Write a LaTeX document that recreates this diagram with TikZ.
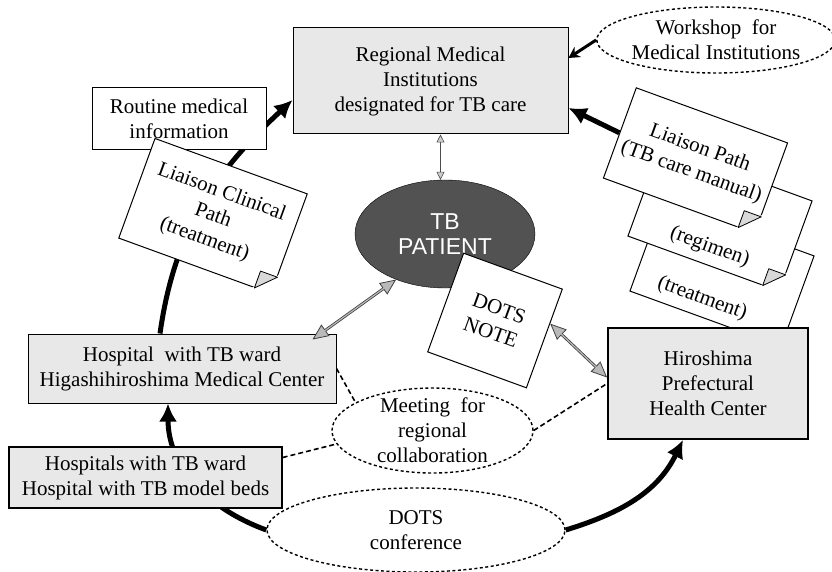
\documentclass[tikz,border=0pt]{standalone}
\usepackage{fontspec}
\setmainfont{Liberation Serif}
\newfontfamily\patfont{Liberation Sans}
\usetikzlibrary{shapes,arrows.meta,calc,backgrounds}
\tikzset{
    semithick,
    font=\fontsize{21}{25}\selectfont,
    box/.style = {rectangle, draw, line width=1pt, fill=gray!18, align=center, inner sep=2pt},
    bubble/.style = {ellipse, draw, line width=1.4pt, dash pattern=on 3pt off 2.5pt, align=center, inner sep=0pt},
    page/.style = {rectangle, draw, line width=1pt, fill=white, rotate=-20, align=center,
                   minimum width=161, minimum height=96, inner sep=2pt},
    fold/.style = {fill=gray!30, draw, line width=0.8pt, line join=round},
    patient/.style = {ellipse, draw, fill=black!68, text=white, align=center,
                      font=\patfont\fontsize{23}{25}\selectfont},
    flow/.style = {line width=5pt, -{Latex[length=18pt, width=18pt]}},
    grayhead/.tip = {Triangle[length=16pt, width=14pt, fill=gray!55, line width=0.8pt]},
    smallhead/.tip = {Triangle[length=8pt, width=8pt, fill=gray!40, line width=0.6pt]},
    swap/.style = {draw=black!75, line width=2.8pt, grayhead-grayhead,
                   postaction={draw=gray!55, line width=1.2pt, -, shorten <=14pt, shorten >=14pt}},
    contact/.style = {draw=black!70, line width=1.2pt, smallhead-smallhead},
    meetline/.style = {line width=1.6pt, dash pattern=on 5pt off 3pt}
}

\begin{document}
\begin{tikzpicture}[x=1pt, y=1pt]

    \useasboundingbox (0,0) rectangle (832,571);

    % Institutions at the top
    \node[box, minimum width=275, minimum height=106] (reg) at (430.5,490) {Regional Medical\\Institutions\\designated for TB care};
    \node[box, fill=white, minimum width=174, minimum height=62] (routine) at (179,452) {Routine medical\\information};
    \node[bubble, minimum width=234, minimum height=66] (shop) at (716,531) {Workshop\ \ for\\Medical Institutions};

    % Liaison paths (papers)
    \node[page, minimum width=162, minimum height=106] (lcp) at (213,355) {Liaison Clinical\\Path\\(treatment)};
    \node[page, text height=75pt] (treat) at (722,297.5) {(treatment)\hspace*{20pt}};
    \node[page, text height=75pt] (regi) at (720,352.5) {(regimen)};
    \node[page] (lpath) at (695.5,410.5) {Liaison Path\\(TB care manual)};

    \node[box, line width=1.8pt, minimum width=200, minimum height=111] (hpc) at (708,187.5) {Hiroshima\\Prefectural\\Health Center};

    % Patient and DOTS note
    \node[patient, minimum width=180, minimum height=108] (pat) at (445,337) {TB\\PATIENT};
    \node[page, minimum width=105, minimum height=105] (note) at (495,250.5) {DOTS\\NOTE};

    % Hospitals and meetings
    \node[box, minimum width=308, minimum height=69] (htb) at (182,202.5) {Hospital\ \ with TB ward\\Higashihiroshima Medical Center};
    \node[box, line width=1.4pt, minimum width=273, minimum height=61] (hosps) at (145.5,93.5) {Hospitals with TB ward\\Hospital with TB model beds};
    \node[bubble, inner ysep=-7pt, minimum width=201, minimum height=85] (meet) at (432.5,140.5) {Meeting\ \ for\\regional\\collaboration};
    \node[bubble, minimum width=298, minimum height=84] (conf) at (416,41) {DOTS\\conference};

    % Folded corners
    \foreach \d in {lcp,regi,lpath} {
        \coordinate (a) at ($(\d.south east)!18pt!(\d.north east)$);
        \coordinate (b) at ($(\d.south east)!18pt!(\d.south west)$);
        \filldraw[white, line width=2.5pt] (a) -- (\d.south east) -- (b) -- cycle;
        \filldraw[fold] (a) -- ($(a)+(b)-(\d.south east)$) -- (b) -- cycle;
    }

    % Main flow
    \begin{pgfonlayer}{background}
        \draw[flow] (conf.west) to[out=160, in=-90] ([xshift=-14pt]htb.south);
        \draw[flow] ([xshift=-22pt]htb.north) to[out=82, in=223] ([yshift=-19pt]reg.west);
        \draw[flow] (conf.east) to[out=17, in=244] ([xshift=-25pt]hpc.south);
    \end{pgfonlayer}
    \draw[flow] (lpath.west) -- ([yshift=-27pt]reg.east);
    \draw[line width=3pt, -{Stealth[length=11pt, width=12pt]}] (shop.west) -- ([yshift=23pt]reg.east);

    % Contacts with the patient
    \draw[contact] ([xshift=10pt]reg.south) -- ([xshift=10pt]reg.south |- pat.north);
    \draw[swap] ([xshift=-24pt,yshift=-6pt]htb.north east) -- (pat.223);
    \draw[swap] ($(note.north east)!0.35!(note.south east)$) -- ([yshift=6pt]hpc.west);

    % Meeting links
    \draw[meetline] (htb.east) -- (meet.160);
    \draw[meetline] ([yshift=20pt]hosps.east) -- (meet.188);
    \draw[meetline] (meet.east) -- (hpc.west);

\end{tikzpicture}
\end{document}
